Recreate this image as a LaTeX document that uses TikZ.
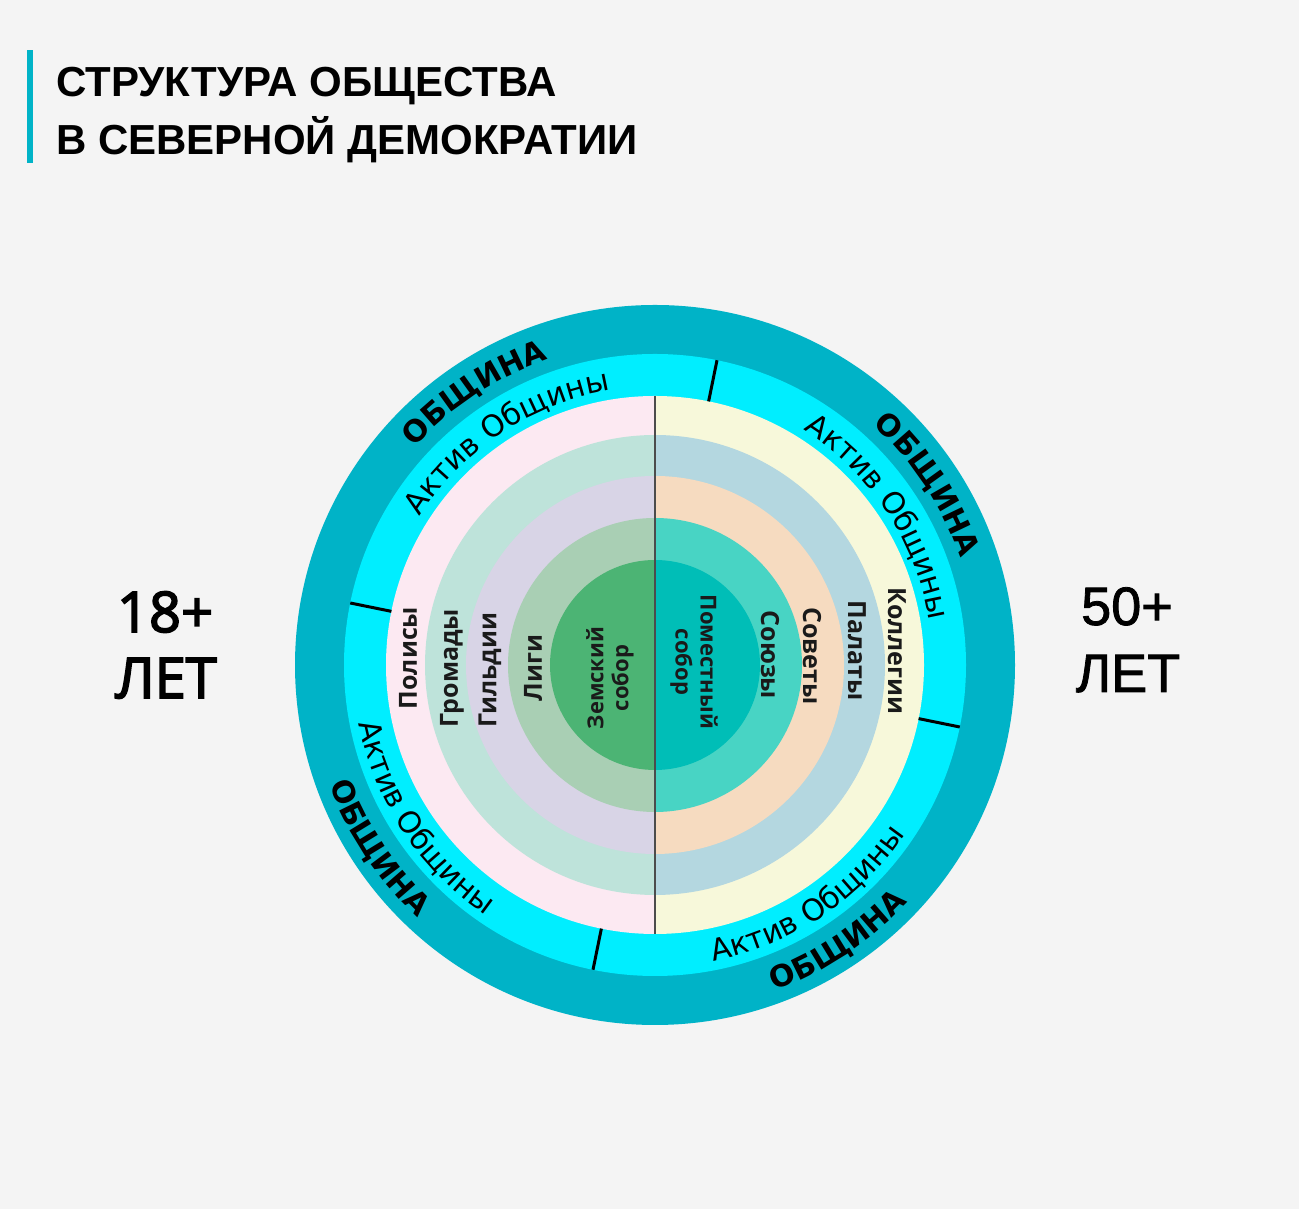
\documentclass[tikz,border=0pt]{standalone}
\usepackage{fontspec}
\setmainfont{Open Sans}
\newfontfamily\titlefont{Liberation Sans}
\newfontfamily\ringfont{DejaVu Sans}
\newfontfamily\agefontL[FakeBold=3]{Open Sans}
\newfontfamily\agefontR[FakeBold=1.5]{Liberation Sans}
\usetikzlibrary{decorations.text}
\definecolor{bggray}{RGB}{244,244,244}
\definecolor{ringdark}{RGB}{0,179,199}
\definecolor{ringcyan}{RGB}{0,238,255}
\definecolor{lpink}{RGB}{252,233,242}
\definecolor{lmint}{RGB}{190,227,218}
\definecolor{llav}{RGB}{216,212,230}
\definecolor{lsage}{RGB}{169,207,180}
\definecolor{lgreen}{RGB}{76,180,116}
\definecolor{rcream}{RGB}{247,248,218}
\definecolor{rblue}{RGB}{180,215,224}
\definecolor{rpeach}{RGB}{246,219,192}
\definecolor{rturq}{RGB}{72,212,196}
\definecolor{rteal}{RGB}{0,190,183}
\definecolor{labelink}{RGB}{26,26,26}
\newcommand{\ringbig}{\ringfont\bfseries\fontsize{30}{30}\selectfont}
\newcommand{\ringsmall}{\ringfont\fontsize{30}{30}\selectfont}

\begin{document}
\begin{tikzpicture}[x=1pt,y=1pt,
    lbl/.style={font=\bfseries\fontsize{25}{28}\selectfont, text=labelink, inner sep=0pt, align=center},
    lbltwo/.style={lbl, font=\bfseries\fontsize{22}{25}\selectfont},
    leftlbl/.style={rotate=90},
    rightlbl/.style={rotate=-90},
    ticker/.style={line width=3pt, black},
    divider/.style={line width=1.3pt, black!70},
    titletext/.style={anchor=base west, inner sep=0pt, font=\titlefont\bfseries\fontsize{42}{42}\selectfont},
    ageleft/.style={anchor=base, inner sep=0pt, font=\agefontL\fontsize{56}{56}\selectfont},
    ageright/.style={anchor=base, inner sep=0pt, font=\agefontR\fontsize{54}{54}\selectfont}]
\fill[bggray] (0,0) rectangle (1299,1209);
\useasboundingbox (0,0) rectangle (1299,1209);
% title
\fill[ringdark] (27,1046) rectangle (33,1159);
\node[titletext] (title1) at (56,1112) {СТРУКТУРА ОБЩЕСТВА};
\node[titletext] (title2) at (56,1054) {В СЕВЕРНОЙ ДЕМОКРАТИИ};
% ages
\node[ageleft] (age18) at (165,577) {18+};
\node[ageleft] (let18) at (166,511) {ЛЕТ};
\node[ageright] (age50) at (1127,584) {50+};
\node[ageright] (let50) at (1128,517) {ЛЕТ};
% circle
\begin{scope}[shift={(655,544)}]
\fill[ringdark] (0,0) circle[radius=360];
\fill[ringcyan] (0,0) circle[radius=311];
\foreach \r/\cl/\cr in {269/lpink/rcream, 230/lmint/rblue, 189/llav/rpeach, 147/lsage/rturq, 105/lgreen/rteal}{
    \fill[\cl] (90:\r) arc[start angle=90, end angle=270, radius=\r] -- cycle;
    \fill[\cr] (-90:\r) arc[start angle=-90, end angle=90, radius=\r] -- cycle;
}
\draw[divider] (90:269) -- (-90:269);
\foreach \a in {78.5,168.5,258.5,348.5}
    \draw[ticker] (\a:269) -- (\a:311);
% upper sectors, read clockwise
\foreach \a in {123.5,33.5}{
    \path[decorate, decoration={text along path, text align=center, text={|\ringbig|ОБЩИНА}}]
        (\a+45:324) arc[start angle=\a+45, end angle=\a-45, radius=324];
    \path[decorate, decoration={text along path, text align=center, text={|\ringsmall|Актив Общины}}]
        (\a+45:278) arc[start angle=\a+45, end angle=\a-45, radius=278];
}
% lower sectors, read counterclockwise
\foreach \a in {213.5,303.5}{
    \path[decorate, decoration={text along path, text align=center, text={|\ringbig|ОБЩИНА}}]
        (\a-45:347) arc[start angle=\a-45, end angle=\a+45, radius=347];
    \path[decorate, decoration={text along path, text align=center, text={|\ringsmall|Актив Общины}}]
        (\a-45:302) arc[start angle=\a-45, end angle=\a+45, radius=302];
}
% left half
\node[lbl, leftlbl] (polisy) at (-247,7) {Полисы};
\node[lbl, leftlbl] (gromady) at (-203,-3) {Громады};
\node[lbl, leftlbl] (gildii) at (-165,-5) {Гильдии};
\node[lbl, leftlbl] (ligi) at (-122,-3) {Лиги};
\node[lbltwo, leftlbl] (zemsky) at (-45,-13) {Земский\\собор};
% right half
\node[lbltwo, rightlbl] (pomestny) at (39,3) {Поместный\\собор};
\node[lbl, rightlbl] (soyuzy) at (115,10) {Союзы};
\node[lbl, rightlbl] (sovety) at (157,9) {Советы};
\node[lbl, rightlbl] (palaty) at (202,14) {Палаты};
\node[lbl, rightlbl] (kollegii) at (242,14) {Коллегии};
\end{scope}
\end{tikzpicture}
\end{document}
